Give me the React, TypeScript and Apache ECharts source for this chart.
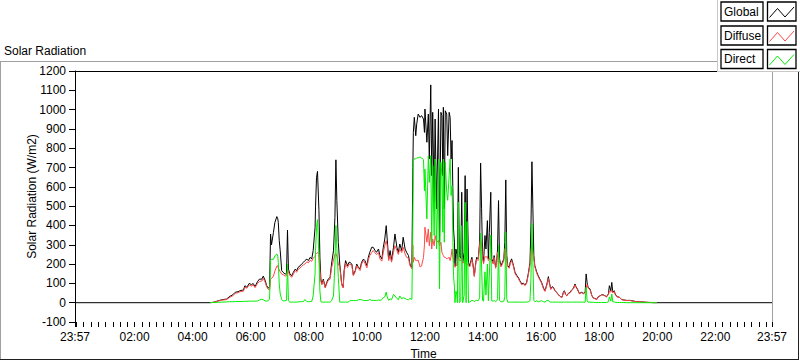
import { useEffect, useRef } from 'react';
import * as echarts from 'echarts';

// ---------- data (time in minutes after 00:00; 23:57 of previous day = -3) ----------
const seriesNames = ['Global', 'Diffuse', 'Direct'];
const seriesColors = ['#000000', '#ff4848', '#00ee00'];

const times = [
  -3, 276, 283, 293, 300, 310, 317, 323, 328, 334,
  338, 345, 348, 352, 357, 362, 365, 369, 374, 378,
  383, 386, 390, 393, 396, 399, 401, 403, 407, 410,
  414, 416, 417, 419, 421, 424, 427, 431, 434, 436,
  438, 441, 445, 448, 452, 455, 458, 462, 465, 469,
  472, 476, 479, 483, 486, 489, 493, 494, 496, 498,
  501, 503, 505, 507, 510, 514, 517, 520, 524, 527,
  531, 534, 536, 538, 541, 544, 548, 551, 553, 556,
  560, 563, 565, 569, 572, 576, 579, 582, 586, 589,
  593, 596, 600, 603, 606, 610, 613, 617, 620, 624,
  627, 631, 634, 637, 640, 642, 645, 648, 651, 655,
  658, 662, 665, 668, 672, 675, 679, 682, 686, 689,
  693, 695, 696, 698, 701, 703, 706, 710, 713, 717,
  719, 720, 724, 727, 729, 732, 734, 736, 739, 741,
  744, 748, 750, 753, 755, 757, 758, 760, 762, 765,
  767, 770, 772, 774, 776, 779, 781, 782, 784, 786,
  787, 789, 791, 794, 796, 798, 801, 803, 805, 807,
  810, 812, 813, 817, 820, 822, 825, 827, 830, 833,
  835, 837, 839, 841, 844, 846, 849, 851, 853, 856,
  858, 861, 863, 866, 868, 870, 872, 874, 877, 880,
  883, 885, 887, 889, 891, 894, 896, 899, 903, 906,
  910, 913, 916, 920, 923, 927, 930, 934, 937, 939,
  941, 943, 945, 947, 951, 954, 958, 961, 965, 968,
  972, 975, 977, 980, 983, 985, 989, 992, 996, 999,
  1003, 1006, 1008, 1011, 1013, 1016, 1020, 1023, 1027, 1030,
  1032, 1035, 1039, 1044, 1047, 1051, 1053, 1055, 1057, 1061,
  1065, 1068, 1071, 1075, 1078, 1082, 1085, 1088, 1092, 1095,
  1099, 1101, 1104, 1106, 1108, 1111, 1113, 1117, 1122, 1126,
  1131, 1137, 1144, 1150, 1157, 1164, 1178, 1192, 1199, 1437,
];

const globalW = [
  0, 0, 2, 10, 15, 19, 33, 41, 54, 57,
  62, 66, 88, 80, 100, 93, 100, 83, 109, 122,
  122, 138, 114, 88, 76, 80, 356, 300, 364, 416,
  446, 434, 416, 321, 269, 166, 157, 148, 152, 376,
  174, 148, 140, 157, 174, 166, 183, 191, 200, 209,
  218, 226, 218, 235, 226, 269, 390, 500, 649, 680,
  477, 235, 122, 97, 122, 80, 105, 122, 131, 200,
  269, 442, 740, 528, 312, 200, 97, 80, 166, 218,
  191, 209, 209, 200, 145, 166, 200, 186, 175, 209,
  226, 218, 192, 235, 261, 287, 287, 270, 261, 278,
  244, 226, 287, 330, 399, 330, 226, 270, 218, 287,
  356, 287, 261, 304, 270, 339, 278, 261, 244, 200,
  183, 700, 882, 960, 865, 926, 977, 960, 969, 951,
  882, 1003, 831, 977, 744, 1128, 658, 986, 520, 951,
  486, 1003, 313, 986, 969, 658, 1012, 486, 994, 977,
  762, 986, 960, 744, 840, 382, 313, 190, 278, 250,
  195, 701, 244, 230, 572, 210, 261, 658, 209, 589,
  209, 190, 192, 235, 183, 140, 209, 235, 227, 313,
  723, 486, 244, 209, 348, 278, 425, 227, 365, 572,
  227, 209, 244, 183, 209, 278, 529, 227, 192, 209,
  227, 313, 636, 244, 192, 183, 209, 227, 192, 158,
  140, 131, 114, 97, 102, 92, 105, 158, 209, 399,
  730, 486, 244, 192, 158, 140, 120, 105, 76, 62,
  97, 135, 105, 71, 83, 80, 62, 54, 41, 33,
  28, 54, 62, 41, 36, 48, 54, 66, 76, 97,
  83, 71, 48, 54, 48, 54, 149, 105, 80, 71,
  36, 24, 22, 17, 31, 36, 41, 41, 36, 31,
  45, 88, 62, 105, 54, 62, 45, 31, 28, 17,
  14, 12, 12, 9, 5, 5, 2, 0, 0, 0,
];

const diffuseW = [
  null, 0, 2, 9, 13, 16, 28, 36, 48, 52,
  57, 60, 80, 75, 92, 86, 93, 78, 100, 110,
  112, 125, 106, 82, 70, 68, 120, 125, 138, 164,
  190, 191, 180, 170, 160, 148, 145, 138, 140, 170,
  160, 140, 132, 148, 165, 158, 172, 180, 188, 196,
  200, 212, 206, 220, 214, 230, 240, 250, 255, 260,
  250, 170, 112, 92, 115, 76, 98, 115, 122, 180,
  220, 250, 255, 240, 200, 185, 92, 76, 155, 205,
  182, 198, 200, 192, 140, 160, 192, 178, 166, 200,
  218, 205, 180, 220, 244, 260, 270, 258, 249, 260,
  226, 215, 261, 295, 321, 295, 218, 244, 210, 261,
  295, 270, 250, 278, 260, 287, 252, 235, 230, 192,
  175, 300, 209, 235, 218, 218, 220, 185, 190, 235,
  300, 391, 313, 382, 295, 365, 278, 330, 295, 348,
  313, 322, 295, 313, 261, 250, 244, 235, 235, 227,
  230, 235, 218, 240, 278, 209, 200, 183, 192, 192,
  190, 244, 218, 218, 235, 205, 209, 218, 200, 200,
  195, 185, 188, 225, 178, 135, 200, 225, 218, 300,
  330, 300, 235, 200, 240, 235, 240, 218, 230, 220,
  218, 200, 235, 178, 200, 260, 244, 215, 185, 200,
  218, 280, 270, 232, 186, 178, 200, 218, 185, 152,
  135, 126, 110, 93, 98, 88, 100, 150, 195, 270,
  300, 260, 232, 186, 152, 135, 115, 100, 72, 58,
  92, 125, 100, 68, 80, 77, 60, 52, 40, 32,
  27, 51, 58, 40, 35, 46, 52, 63, 72, 92,
  80, 68, 46, 52, 46, 52, 75, 95, 76, 68,
  35, 23, 21, 16, 30, 35, 40, 40, 35, 30,
  40, 60, 55, 65, 50, 58, 43, 30, 27, 16,
  13, 11, 11, 8, 5, 5, 2, 1, 0, null,
];

const directW = [
  null, 0, 1, 2, 3, 4, 5, 5, 6, 6,
  6, 7, 7, 7, 8, 8, 8, 8, 9, 14,
  18, 15, 9, 8, 10, 19, 220, 225, 225, 243,
  252, 240, 208, 97, 45, 17, 9, 10, 12, 200,
  10, 3, 3, 3, 3, 3, 4, 5, 5, 6,
  17, 6, 5, 6, 6, 35, 150, 269, 390, 430,
  230, 60, 5, 3, 3, 3, 3, 3, 3, 10,
  35, 200, 400, 280, 131, 3, 3, 3, 3, 3,
  3, 5, 11, 11, 11, 11, 11, 14, 17, 15,
  12, 11, 11, 12, 17, 12, 12, 12, 11, 14,
  12, 16, 26, 30, 55, 30, 12, 20, 15, 43,
  35, 22, 15, 35, 20, 26, 22, 17, 15, 22,
  17, 400, 735, 745, 745, 750, 750, 755, 750, 740,
  580, 692, 434, 761, 623, 761, 313, 710, 348, 744,
  278, 744, 72, 727, 658, 365, 744, 313, 727, 572,
  530, 658, 744, 555, 606, 140, 80, 0, 60, 40,
  0, 520, 0, 10, 399, 0, 40, 520, 0, 420,
  0, 3, 5, 12, 10, 5, 12, 12, 10, 25,
  360, 190, 12, 8, 160, 40, 200, 10, 140, 350,
  10, 8, 12, 5, 10, 20, 300, 12, 5, 5,
  8, 30, 366, 20, 3, 3, 3, 3, 3, 3,
  3, 3, 3, 3, 3, 3, 3, 5, 10, 130,
  410, 209, 12, 5, 10, 5, 8, 10, 5, 3,
  12, 12, 5, 3, 3, 3, 3, 3, 3, 3,
  3, 3, 3, 3, 3, 3, 3, 3, 3, 3,
  3, 3, 3, 3, 3, 3, 80, 10, 3, 3,
  2, 2, 1, 1, 1, 1, 1, 1, 1, 1,
  5, 30, 8, 45, 5, 4, 2, 1, 1, 1,
  1, 0, 0, 0, 0, 0, 0, 0, 0, null,
];

// axis ticks / labels
const X_MIN = -3;
const X_MAX = 1437;
const xLabelValues = [-3, 120, 240, 360, 480, 600, 720, 840, 960, 1080, 1200, 1320, 1437];
const xLabelTexts = ['23:57', '02:00', '04:00', '06:00', '08:00', '10:00', '12:00', '14:00', '16:00', '18:00', '20:00', '22:00', '23:57'];
const Y_MIN = -100;
const Y_MAX = 1200;
const Y_STEP = 100;

const FONT = 'Liberation Sans, Arial, sans-serif';

function buildOption() {
  const tickValues: number[] = [X_MIN];
  for (let t = 0; t < X_MAX; t += 15) tickValues.push(t);
  tickValues.push(X_MAX);

  const dataSets = [globalW, diffuseW, directW];
  const series = dataSets.map((vals, si) => ({
    name: seriesNames[si],
    type: 'line',
    xAxisIndex: 0,
    yAxisIndex: 0,
    showSymbol: false,
    symbol: 'none',
    connectNulls: false,
    lineStyle: { color: seriesColors[si], width: 1 },
    itemStyle: { color: seriesColors[si] },
    data: times.map((t, i) => [t, vals[i]]),
    z: 2 + si,
  }));

  const rowTops = [2, 26, 49.5];
  const legendGraphics: any[] = [
    { type: 'rect', shape: { x: 717, y: -1, width: 84, height: 73 }, style: { fill: '#ffffff' }, z: 100 },
    { type: 'line', shape: { x1: 717.5, y1: 0, x2: 717.5, y2: 72 }, style: { stroke: '#c8c8c8', lineWidth: 1 }, z: 101 },
    { type: 'line', shape: { x1: 717, y1: 71.5, x2: 800, y2: 71.5 }, style: { stroke: '#c8c8c8', lineWidth: 1 }, z: 101 },
  ];
  seriesNames.forEach((name, i) => {
    const top = rowTops[i];
    legendGraphics.push(
      { type: 'rect', shape: { x: 721, y: top, width: 42, height: 19 }, style: { fill: '#fff', stroke: '#000', lineWidth: 1.3 }, z: 102 },
      { type: 'text', x: 724, y: top + 9.5, style: { text: name, font: `12px ${FONT}`, fill: '#000', textVerticalAlign: 'middle', textAlign: 'left' }, z: 103 },
      { type: 'rect', shape: { x: 767.5, y: top, width: 28.5, height: 19 }, style: { fill: '#fff', stroke: '#000', lineWidth: 1.3 }, z: 102 },
      {
        type: 'polyline',
        shape: { points: [[769.5, top + 15.5], [777.5, top + 6.5], [785, top + 15], [794, top + 5]] },
        style: { stroke: seriesColors[i], lineWidth: 1, fill: 'none' },
        z: 103,
      },
    );
  });

  const frame: any[] = [
    { type: 'line', shape: { x1: 0, y1: 61.5, x2: 717, y2: 61.5 }, style: { stroke: '#a0a0a0', lineWidth: 1 }, z: 50 },
    { type: 'line', shape: { x1: 0.5, y1: 61, x2: 0.5, y2: 360 }, style: { stroke: '#a0a0a0', lineWidth: 1 }, z: 50 },
    { type: 'line', shape: { x1: 0, y1: 359.5, x2: 799, y2: 359.5 }, style: { stroke: '#202020', lineWidth: 1 }, z: 50 },
    { type: 'line', shape: { x1: 798.5, y1: 72, x2: 798.5, y2: 360 }, style: { stroke: '#202020', lineWidth: 1 }, z: 50 },
    { type: 'text', x: 4, y: 51, style: { text: 'Solar Radiation', font: `12px ${FONT}`, fill: '#000', textVerticalAlign: 'middle' }, z: 50 },
  ];

  return {
    animation: false,
    backgroundColor: '#ffffff',
    grid: { left: 75, top: 71, width: 697, height: 251, containLabel: false, outerBoundsMode: 'none' },
    xAxis: [
      {
        type: 'value',
        min: X_MIN,
        max: X_MAX,
        position: 'bottom',
        axisLine: { show: false, onZero: false },
        axisTick: { show: true, customValues: tickValues, length: 5, lineStyle: { color: '#000', width: 1 } },
        axisLabel: {
          customValues: xLabelValues,
          formatter: (v: number) => {
            const idx = xLabelValues.indexOf(Math.round(v));
            return idx >= 0 ? xLabelTexts[idx] : '';
          },
          color: '#000',
          fontSize: 12,
          fontFamily: FONT,
          margin: 9,
        },
        splitLine: { show: false },
        name: 'Time',
        nameLocation: 'middle',
        nameGap: 26,
        nameMoveOverlap: false,
        nameTextStyle: { color: '#000', fontSize: 12, fontFamily: FONT },
      },
      {
        type: 'value',
        min: X_MIN,
        max: X_MAX,
        position: 'top',
        axisLine: { show: true, onZero: false, lineStyle: { color: '#000', width: 1 } },
        axisTick: { show: false },
        axisLabel: { show: false },
        splitLine: { show: false },
      },
    ],
    yAxis: [
      {
        type: 'value',
        min: Y_MIN,
        max: Y_MAX,
        interval: Y_STEP,
        position: 'left',
        axisLine: { show: true, onZero: false, lineStyle: { color: '#000', width: 1 } },
        axisTick: { show: true, length: 6, lineStyle: { color: '#000', width: 1 } },
        axisLabel: { color: '#000', fontSize: 12, fontFamily: FONT, margin: 9, formatter: (v: number) => String(v) },
        splitLine: { show: false },
        name: 'Solar Radiation (W/m2)',
        nameLocation: 'middle',
        nameGap: 37,
        nameMoveOverlap: false,
        nameTextStyle: { color: '#000', fontSize: 12, fontFamily: FONT },
      },
      {
        type: 'value',
        min: Y_MIN,
        max: Y_MAX,
        interval: Y_STEP,
        position: 'right',
        axisLine: { show: true, onZero: false, lineStyle: { color: '#a0a0a0', width: 1 } },
        axisTick: { show: false },
        axisLabel: { show: false },
        splitLine: { show: false },
      },
    ],
    series,
    graphic: [...frame, ...legendGraphics],
  };
}

export default function App() {
  const ref = useRef<HTMLDivElement>(null);
  useEffect(() => {
    if (!ref.current) return;
    const chart = echarts.init(ref.current, null, { renderer: 'svg', width: 800, height: 361 });
    chart.setOption(buildOption() as any);
    return () => chart.dispose();
  }, []);
  return (
    <div
      ref={ref}
      style={{ position: 'fixed', left: 0, top: 0, width: 800, height: 361, background: '#fff' }}
    />
  );
}
